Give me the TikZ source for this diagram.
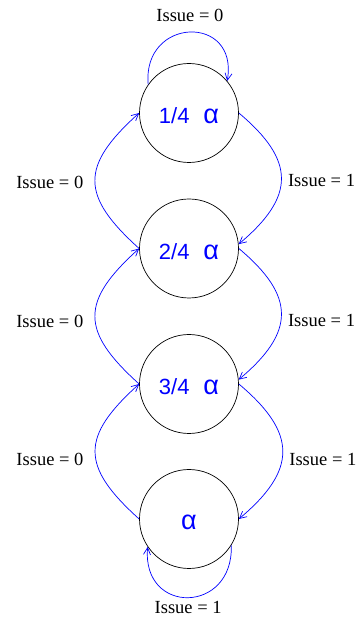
\documentclass[tikz,border=0pt]{standalone}
\usepackage{fontspec}
\setmainfont{Liberation Serif}
\newfontfamily\statefont{Liberation Sans}
\usetikzlibrary{arrows.meta}
\newcommand\bigalpha{{\fontsize{27}{30}\selectfont α}}

\begin{document}
\begin{tikzpicture}[x=1pt, y=1pt,
    stage/.style={draw=black, circle, line width=0.7pt, minimum size=99pt, inner sep=0pt,
                  text=blue, text height=22pt, text depth=0pt,
                  font=\statefont\fontsize{22}{26}\selectfont},
    cond/.style={font=\fontsize{18.5}{22}\selectfont, text=black},
    trans/.style={draw=blue, line width=0.7pt, -{Straight Barb[length=7pt, width=7pt]}}
  ]
    \useasboundingbox (0,0) rectangle (357,619);

    \node[stage] (q1) at (189,506) {1/4\hspace{14pt}\bigalpha};
    \node[stage] (q2) at (189,370.5) {2/4\hspace{14pt}\bigalpha};
    \node[stage] (q3) at (189,235) {3/4\hspace{14pt}\bigalpha};
    \node[stage] (q4) at (189,100) {\bigalpha};

    % self loops
    \draw[trans] (q1.145) to[out=95, in=80, looseness=2.2]
        node[cond, midway, above=7pt] {Issue = 0} (q1.40);
    \draw[trans] (q4.-32) to[out=-88, in=-95, looseness=2.1]
        node[cond, midway, below=0pt] {Issue = 1} (q4.-146);

    % up: Issue = 0
    \draw[trans] (q2.west) to[out=138, in=-138, looseness=1.5]
        node[cond, midway, left=8pt, yshift=-2pt] {Issue = 0} (q1.west);
    \draw[trans] (q3.west) to[out=138, in=-138, looseness=1.5]
        node[cond, midway, left=8pt, yshift=-5pt] {Issue = 0} (q2.west);
    \draw[trans] (q4.west) to[out=138, in=-138, looseness=1.5]
        node[cond, midway, left=8pt, yshift=-8pt] {Issue = 0} (q3.west);

    % down: Issue = 1
    \draw[trans] (q1.east) to[out=-40, in=40, looseness=1.45]
        node[cond, midway, right=3pt, yshift=-2pt] {Issue = 1} (q2.5);
    \draw[trans] (q2.east) to[out=-40, in=40, looseness=1.45]
        node[cond, midway, right=3pt, yshift=-6pt] {Issue = 1} (q3.5);
    \draw[trans] (q3.east) to[out=-40, in=40, looseness=1.45]
        node[cond, midway, right=3pt, yshift=-8pt] {Issue = 1} (q4.east);
  \end{tikzpicture}
\end{document}
